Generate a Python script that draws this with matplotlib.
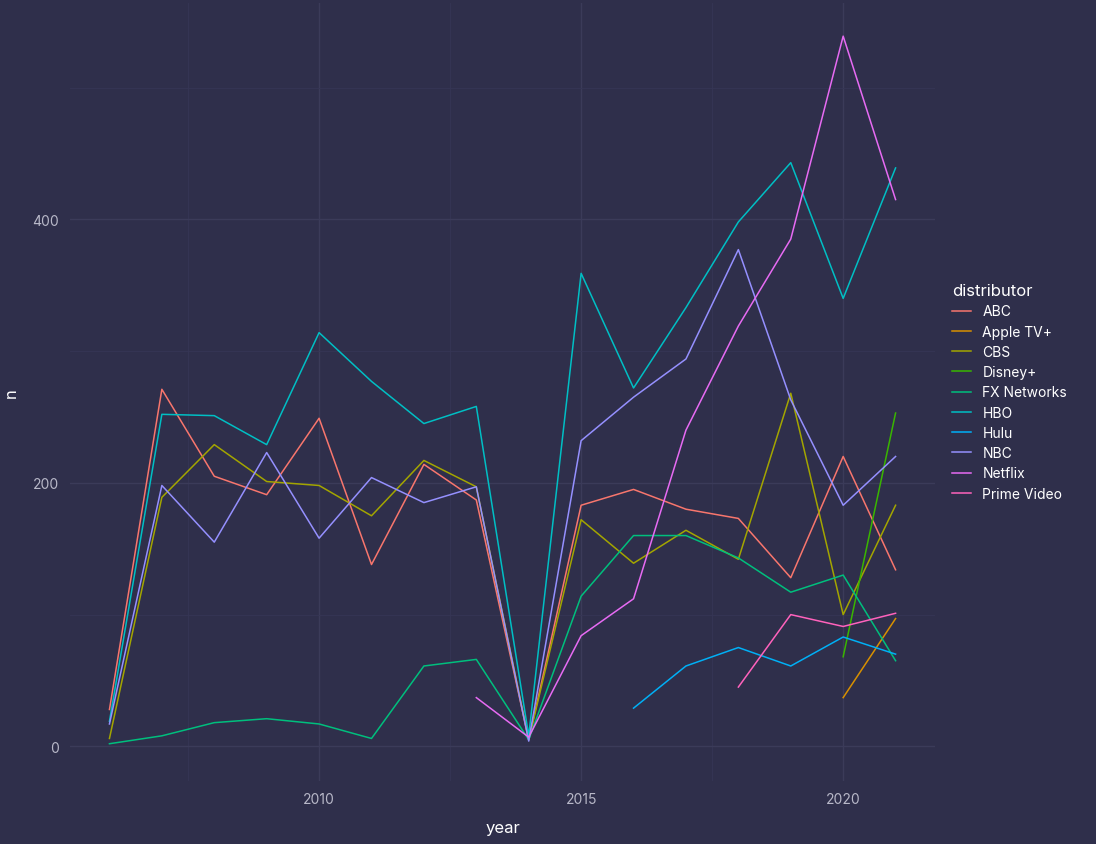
import numpy as np
import matplotlib.pyplot as plt

plt.rcParams['font.family'] = ['Inter', 'DejaVu Sans']

years = list(range(2006, 2022))

abc = [28, 271, 205, 191, 249, 138, 214, 187, 5, 183, 195, 180, 173, 128, 220, 134]
cbs = [6, 189, 229, 201, 198, 175, 217, 197, 5, 172, 139, 164, 142, 268, 100, 183]
fx = [2, 8, 18, 21, 17, 6, 61, 66, 5, 114, 160, 160, 143, 117, 130, 65]
hbo = [19, 252, 251, 229, 314, 277, 245, 258, 8, 359, 272, 333, 398, 443, 340, 439]
nbc = [17, 198, 155, 223, 158, 204, 185, 197, 4, 232, 265, 294, 377, 263, 183, 220]
netflix_years = list(range(2013, 2022))
netflix = [37, 7, 84, 112, 240, 319, 385, 539, 415]
hulu_years = list(range(2016, 2022))
hulu = [29, 61, 75, 61, 83, 70]
prime_years = [2018, 2019, 2020, 2021]
prime = [45, 100, 91, 101]
apple_years = [2020, 2021]
apple = [37, 97]
disney_years = [2020, 2021]
disney = [68, 253]

series = [
    ("ABC", years, abc, "#F8766D"),
    ("Apple TV+", apple_years, apple, "#D89000"),
    ("CBS", years, cbs, "#A3A500"),
    ("Disney+", disney_years, disney, "#39B600"),
    ("FX Networks", years, fx, "#00BF7D"),
    ("HBO", years, hbo, "#00BFC4"),
    ("Hulu", hulu_years, hulu, "#00B0F6"),
    ("NBC", years, nbc, "#9590FF"),
    ("Netflix", netflix_years, netflix, "#E76BF3"),
    ("Prime Video", prime_years, prime, "#FF62BC"),
]

bg = "#2f2f4b"
fig = plt.figure(figsize=(10.96, 8.45), dpi=100, facecolor=bg)
ax = fig.add_axes([0.064, 0.075, 0.789, 0.92], facecolor=bg)

for name, x, y, c in series:
    ax.plot(x, y, color=c, lw=1.1, label=name)

ax.set_xlim(2005.25, 2021.75)
ax.set_ylim(-26, 564)
ax.set_xticks([2010, 2015, 2020])
ax.set_yticks([0, 200, 400])
ax.set_xticks([2007.5, 2012.5, 2017.5], minor=True)
ax.set_yticks([100, 300, 500], minor=True)
ax.grid(True, which="major", color="#3b3b59", lw=1)
ax.grid(True, which="minor", color="#363655", lw=0.6)
for s in ax.spines.values():
    s.set_visible(False)
ax.tick_params(length=0, colors="#b8b8c8", labelsize=10, pad=8)
ax.tick_params(which="minor", length=0)
ax.set_xlabel("year", color="white", fontsize=12, labelpad=10)
ax.set_ylabel("n", color="white", fontsize=12, labelpad=10)

leg = ax.legend(title="distributor", loc="center left", bbox_to_anchor=(1.005, 0.50),
                frameon=False, fontsize=10, title_fontsize=12, handlelength=1.4,
                labelspacing=0.45, alignment="left")
for t in leg.get_texts():
    t.set_color("white")
leg.get_title().set_color("white")

fig.savefig("out.png", dpi=100, facecolor=bg)
